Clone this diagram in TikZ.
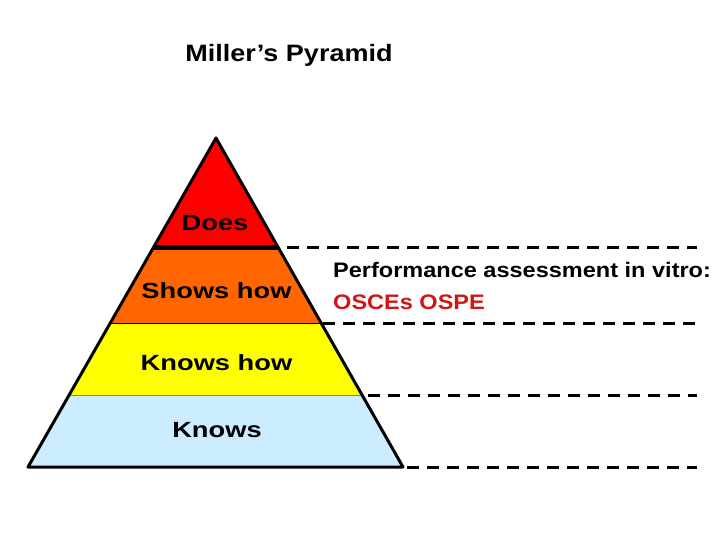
\documentclass[tikz,border=0pt]{standalone}
\usepackage{fontspec}
\setmainfont{Liberation Sans}
\usepackage{graphicx}
\definecolor{lyrRed}{RGB}{255,0,0}
\definecolor{lyrOrange}{RGB}{255,102,0}
\definecolor{lyrYellow}{RGB}{255,255,0}
\definecolor{lyrBlue}{RGB}{204,236,255}
\definecolor{txtRed}{RGB}{210,20,20}
\begin{document}
\begin{tikzpicture}[x=1pt,y=-1pt,
  lbl/.style={inner sep=0pt, anchor=base, font=\fontsize{22}{26}\selectfont\bfseries},
  side/.style={inner sep=0pt, anchor=base west, font=\fontsize{21}{25}\selectfont\bfseries},
  dline/.style={line width=3pt, dash pattern=on 12pt off 8pt},
  sep/.style={line width=1pt}]
\useasboundingbox (0,0) rectangle (720,540);
% layers
\fill[lyrRed] (216,138) -- (278,247) -- (153.7,247) -- cycle;
\fill[lyrOrange] (153.7,247) -- (278,247) -- (321,323) -- (110.4,323) -- cycle;
\fill[lyrYellow] (110.4,323) -- (321,323) -- (362,395) -- (69.2,395) -- cycle;
\fill[lyrBlue] (69.2,395) -- (362,395) -- (403,467) -- (28,467) -- cycle;
\draw[sep] (110.4,323) -- (321,323);
\draw[sep, gray] (69.2,395) -- (362,395);
\draw[line width=5pt] (152.5,247) -- (279,247);
\draw[line width=3pt, line join=round] (216,138) -- (403,467) -- (28,467) -- cycle;
% labels
\node[lbl] (does) at (215,230) {\scalebox{1.24}[1]{Does}};
\node[lbl] (shows) at (216.5,298) {\scalebox{1.24}[1]{Shows how}};
\node[lbl] (knowshow) at (216.5,370) {\scalebox{1.24}[1]{Knows how}};
\node[lbl] (knows) at (217,437) {\scalebox{1.24}[1]{Knows}};
\node[inner sep=0pt, anchor=base, font=\fontsize{23.7}{28}\selectfont\bfseries] (title) at (289,62) {\scalebox{1.14}[1]{Miller’s Pyramid}};
\node[side] (perf) at (333,277) {\scalebox{1.12}[1]{Performance assessment in vitro:}};
\node[side, text=txtRed] (osce) at (333,309) {\scalebox{1.12}[1]{OSCEs OSPE}};
% dashed lines
\coordinate (a1) at (287,247); \coordinate (b1) at (697,247);
\coordinate (a2) at (323,323); \coordinate (b2) at (697,323);
\coordinate (a3) at (368,395); \coordinate (b3) at (697,395);
\coordinate (a4) at (407,467); \coordinate (b4) at (697,467);
\draw[dline] (a1) -- (b1);
\draw[dline] (a2) -- (b2);
\draw[dline] (a3) -- (b3);
\draw[dline] (a4) -- (b4);
\end{tikzpicture}
\end{document}
